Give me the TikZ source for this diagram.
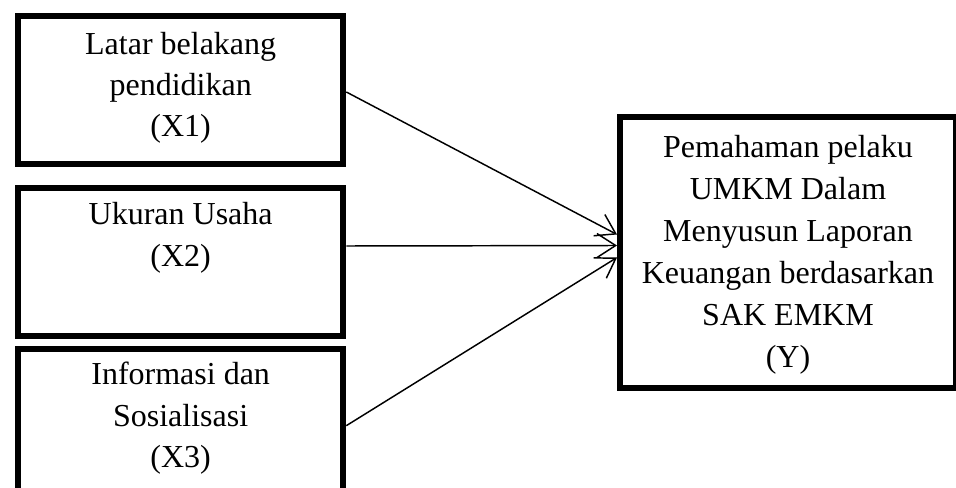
\documentclass[tikz,border=0pt]{standalone}
\usepackage{fontspec}
\setmainfont{Liberation Serif}
\usetikzlibrary{arrows.meta}
\begin{document}
\begin{tikzpicture}[x=0.75pt,y=-0.75pt,
  box/.style={draw=black,line width=4.5pt,fill=none,inner sep=0pt,anchor=north west},
  txt/.style={align=center,inner sep=0pt,font=\fontsize{24pt}{31pt}\selectfont},
  link/.style={draw=black,line width=1.1pt,-{Straight Barb[length=14pt,width=18pt,line width=1.1pt]}}]
\useasboundingbox (0,0) rectangle (956,488);
\clip (0,0) rectangle (956,488);
\node[box,minimum width=244pt,minimum height=111pt] (b1) at (15,13) {};
\node[box,minimum width=244pt,minimum height=111pt] (b2) at (15,185) {};
\node[box,minimum width=244pt,minimum height=111pt] (b3) at (15,346) {};
\node[box,minimum width=252pt,minimum height=203.25pt] (y) at (617,114) {};
\node[txt,anchor=north] (t1) at ([yshift=-14pt]b1.north) {Latar belakang\\pendidikan\\(X1)};
\node[txt,anchor=north] (t2) at ([yshift=-13pt]b2.north) {Ukuran Usaha\\(X2)};
\node[txt,anchor=north] (t3) at ([yshift=-12pt]b3.north) {Informasi dan\\Sosialisasi\\(X3)};
\node[txt,font=\fontsize{24pt}{31.5pt}\selectfont] (ty) at ([yshift=-1.5pt]y.center) {Pemahaman pelaku\\UMKM Dalam\\Menyusun Laporan\\Keuangan berdasarkan\\SAK EMKM\\(Y)};
\draw[link] ([yshift=-1.5pt]b1.east) -- ([yshift=13.5pt]y.west);
\draw[link] ([yshift=12pt]b2.east) -- ([yshift=5.25pt]y.west);
\draw[link] ([yshift=-2pt]b3.east) -- ([yshift=-3.75pt]y.west);
\end{tikzpicture}
\end{document}
